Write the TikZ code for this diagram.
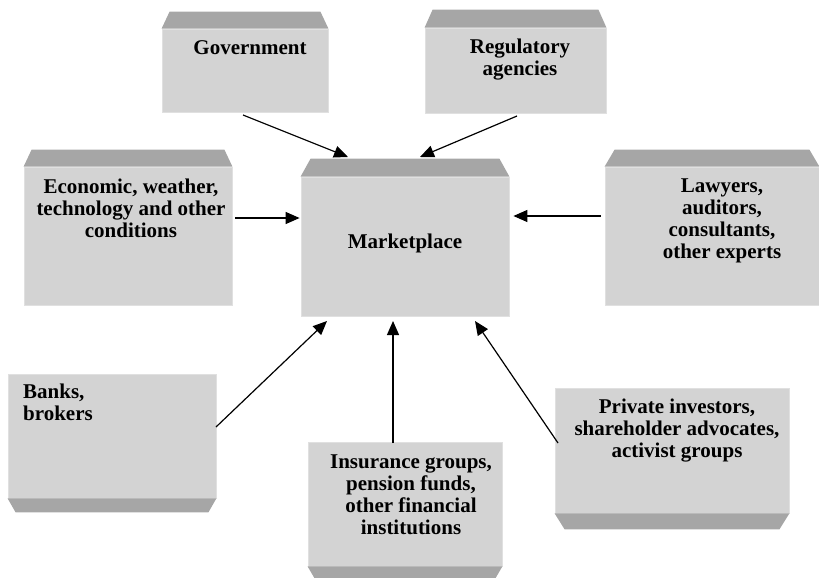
\documentclass[tikz,border=0pt]{standalone}
\usepackage{fontspec}
\setmainfont{Liberation Serif}
\usetikzlibrary{arrows.meta}
\definecolor{facegray}{HTML}{D3D3D3}
\definecolor{bevgray}{HTML}{A6A6A6}
\definecolor{edgegray}{HTML}{E0E0E0}
\newcommand\mybevtop[3]{\fill[bev] (#1.north west) -- ([shift={(#2pt,#3pt)}]#1.north west) -- ([shift={(-#2pt,#3pt)}]#1.north east) -- (#1.north east) -- cycle;}
\newcommand\mybevbot[3]{\fill[bev] (#1.south west) -- ([shift={(#2pt,-#3pt)}]#1.south west) -- ([shift={(-#2pt,-#3pt)}]#1.south east) -- (#1.south east) -- cycle;}
\begin{document}
\begin{tikzpicture}[x=1pt,y=-1pt,
 face/.style={draw=edgegray, line width=0.8pt, fill=facegray, inner sep=0pt},
 lbl/.style={font=\bfseries\fontsize{21}{22}\selectfont, inner sep=0pt, align=center, anchor=base},
 arr/.style={-{Triangle[length=14pt,width=12pt]}, line width=1.2pt},
 bev/.style={fill=bevgray}]
\useasboundingbox (0,0) rectangle (819,578);
% faces
\node[face, minimum width=166pt, minimum height=83pt] (gov) at (245,70.5) {};
\node[face, minimum width=181pt, minimum height=85pt] (reg) at (515.5,70.5) {};
\node[face, minimum width=208pt, minimum height=138pt] (econ) at (128,236) {};
\node[face, minimum width=208pt, minimum height=139pt] (mkt) at (405,246.5) {};
\node[face, minimum width=214pt, minimum height=138pt] (law) at (712,236) {};
\node[face, minimum width=208pt, minimum height=124pt] (banks) at (112,436) {};
\node[face, minimum width=194pt, minimum height=124pt] (ins) at (405,504) {};
\node[face, minimum width=234pt, minimum height=125pt] (priv) at (672,450.5) {};
% bevels
\mybevtop{gov}{8}{17}
\mybevtop{reg}{8}{18}
\mybevtop{econ}{8}{17}
\mybevtop{mkt}{10}{18}
\mybevtop{law}{10}{17}
\mybevbot{banks}{8}{14}
\mybevbot{ins}{7}{12}
\mybevbot{priv}{10}{16}
% labels (anchor base = baseline of last line)
\node[lbl] (govt) at (250,55) {Government};
\node[lbl] (regt) at (520,75) {Regulatory\\agencies};
\node[lbl] (econt) at (131,237) {Economic, weather,\\technology and other\\conditions};
\node[lbl] (mktt) at (405,248) {Marketplace};
\node[lbl] (lawt) at (722,258) {Lawyers,\\auditors,\\consultants,\\other experts};
\node[lbl, align=left, anchor=base west] (bankst) at (23,420) {Banks,\\brokers};
\node[lbl] (inst) at (411,534) {Insurance groups,\\pension funds,\\other financial\\institutions};
\node[lbl] (privt) at (677,457) {Private investors,\\shareholder advocates,\\activist groups};
% arrow end points
\coordinate (gA) at (243,115); \coordinate (gB) at (348,157);
\coordinate (rA) at (517,116); \coordinate (rB) at (420,157);
\coordinate (bA) at (216,427); \coordinate (bB) at (327,321);
\coordinate (iA) at (393,443); \coordinate (iB) at (393,321);
\coordinate (pA) at (558,443); \coordinate (pB) at (475,321);
% arrows
\draw[arr] (gA) -- (gB);
\draw[arr] (rA) -- (rB);
\draw[arr, shorten <=3pt, shorten >=1pt] ([yshift=18pt]econ.east) -- ([yshift=18pt]econ.east -| mkt.west);
\draw[arr, shorten <=4pt, shorten >=4pt] ([yshift=20pt]law.west) -- ([yshift=20pt]law.west -| mkt.east);
\draw[arr] (bA) -- (bB);
\draw[arr] (iA) -- (iB);
\draw[arr] (pA) -- (pB);
\end{tikzpicture}
\end{document}
